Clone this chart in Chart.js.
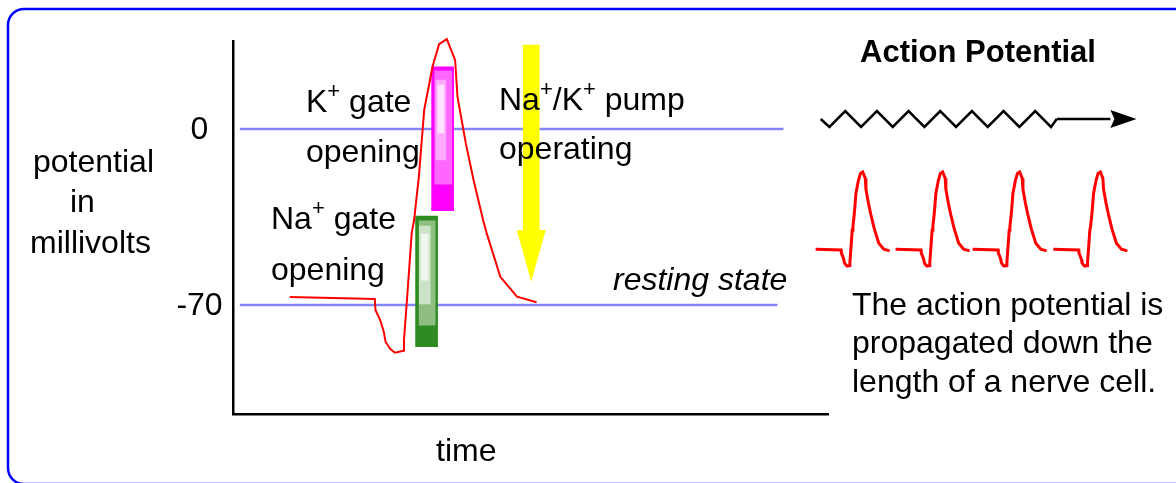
<!DOCTYPE html>
<html>
<head>
<meta charset="utf-8">
<script src="https://cdn.jsdelivr.net/npm/chart.js@4/dist/chart.umd.min.js"></script>
<style>
  body { margin: 0; background: #fff; }
  #wrap { position: relative; width: 1176px; height: 483px; }
  #main { position: absolute; left: 0; top: 0; }
  #side { position: absolute; left: 800px; top: 90px; }
</style>
</head>
<body>
<div id="wrap">
  <canvas id="main" width="1176" height="483"></canvas>
  <canvas id="side" width="376" height="200"></canvas>
</div>
<script>
// time: arbitrary units across the axis (0..100), potential in mV
const traceTime = [9.5, 23.8, 23.9, 24.7, 25.3, 25.6, 26.4, 27.2, 28.6, 28.7, 29.2, 30.0, 30.4, 31.2,
  32.1, 33.5, 34.6, 35.9, 37.3, 37.7, 39.1, 40.4, 41.2, 42.0, 42.6, 44.9, 47.7, 51.0];
const traceMv = [-66.8, -67.6, -72.0, -76.0, -80.6, -84.6, -87.5, -89.0, -88.2, -83.9, -68.0, -41.4, -36.2, -19.0,
  7.6, 24.8, 33.8, 35.8, 27.4, 12.8, -5.7, -20.3, -28.2, -36.2, -41.4, -58.8, -66.7, -68.9];

// reference levels (0 mV and resting -70 mV)
const levelValues = [0, -70];
const levelStart = [1.1, 1.1];
const levelEnd = [92.5, 91.5];
const tickLabels = ['0', '-70'];

// gate bars, outer -> inner
const naGateX = [32.5, 32.6, 32.2, 32.2];
const naGateLow = [-86.6, -78.0, -69.6, -60.1];
const naGateHigh = [-34.6, -36.5, -38.6, -41.8];
const kGateX = [35.2, 35.3, 34.9, 34.9];
const kGateLow = [-32.5, -21.9, -12.3, -1.5];
const kGateHigh = [24.8, 23.2, 19.5, 17.5];

// Na+/K+ pump arrow: x, top, head base, tip
const pumpX = 50.1;
const pumpTop = 33.4;
const pumpHeadBase = -40.2;
const pumpTip = -60.7;

// small traces on the right, shifted copies of the trace above
const miniOffsets = [0, 44.8, 88.0, 133.2];

// zigzag "action potential" symbol
const zigX = [0, 0.55, 1.55, 2.55, 3.55, 4.55, 5.55, 6.55, 7.55, 8.55, 9.55, 10.55, 11.55, 12.55, 13.55, 14.55, 14.91];
const zigY = [0, -1, 1, -1, 1, -1, 1, -1, 1, -1, 1, -1, 1, -1, 1, -1, 0];
const shaftX = [14.91, 18.3];
const shaftTip = 19.95;

const FONT = '"Liberation Sans", Arial, sans-serif';

function pts(xs, ys) { return xs.map((x, i) => ({ x: x, y: ys[i] })); }

function drawRich(ctx, parts, x, y, size) {
  let cx = x;
  parts.forEach(p => {
    const s = p.sup ? 22 : size;
    ctx.font = (p.italic ? 'italic ' : '') + (p.bold ? 'bold ' : '') + s + 'px ' + FONT;
    ctx.fillText(p.t, cx, p.sup ? y - 14 : y);
    cx += ctx.measureText(p.t).width;
  });
}

const mainDecor = {
  id: 'mainDecor',
  beforeDraw(chart) {
    const ctx = chart.ctx;
    ctx.save();
    ctx.strokeStyle = '#0000ff';
    ctx.lineWidth = 2.5;
    ctx.beginPath();
    ctx.roundRect(8, 9, 1190, 475, 16);
    ctx.stroke();
    ctx.restore();
  },
  afterDatasetsDraw(chart) {
    const ctx = chart.ctx;
    const xs = chart.scales.x, ys = chart.scales.y;
    ctx.save();
    // pump arrow head
    const px = xs.getPixelForValue(pumpX);
    ctx.fillStyle = '#ffff00';
    ctx.beginPath();
    ctx.moveTo(px - 14.5, ys.getPixelForValue(pumpHeadBase));
    ctx.lineTo(px + 14.5, ys.getPixelForValue(pumpHeadBase));
    ctx.lineTo(px, ys.getPixelForValue(pumpTip));
    ctx.closePath();
    ctx.fill();

    ctx.fillStyle = '#000';
    ctx.textBaseline = 'middle';
    ctx.textAlign = 'center';
    ctx.font = '32px ' + FONT;
    levelValues.forEach((v, i) => ctx.fillText(tickLabels[i], 199.5, ys.getPixelForValue(v) + 1));

    ctx.textBaseline = 'alphabetic';
    ctx.textAlign = 'left';
    drawRich(ctx, [{ t: 'K' }, { t: '+', sup: true }, { t: ' gate' }], 306, 112, 32);
    drawRich(ctx, [{ t: 'opening' }], 306, 162, 32);
    drawRich(ctx, [{ t: 'Na' }, { t: '+', sup: true }, { t: ' gate' }], 271, 229, 32);
    drawRich(ctx, [{ t: 'opening' }], 271, 280, 32);
    drawRich(ctx, [{ t: 'Na' }, { t: '+', sup: true }, { t: '/K' }, { t: '+', sup: true }, { t: ' pump' }], 499, 110, 32);
    drawRich(ctx, [{ t: 'operating' }], 499, 159, 32);
    drawRich(ctx, [{ t: 'resting state', italic: true }], 613, 290, 32);
    drawRich(ctx, [{ t: 'potential' }], 33, 172, 32);
    drawRich(ctx, [{ t: 'in' }], 70, 212, 32);
    drawRich(ctx, [{ t: 'millivolts' }], 30, 253, 32);
    drawRich(ctx, [{ t: 'time' }], 436, 461, 32);
    drawRich(ctx, [{ t: 'Action Potential', bold: true }], 860, 62, 31);
    drawRich(ctx, [{ t: 'The action potential is' }], 852, 315, 32);
    drawRich(ctx, [{ t: 'propagated down the' }], 852, 353, 32);
    drawRich(ctx, [{ t: 'length of a nerve cell.' }], 852, 392, 32);
    ctx.restore();
  }
};

function gateBars(xs, lows, highs, colors, widths) {
  return xs.map((x, i) => ({
    type: 'bar',
    data: [{ x: x, y: [lows[i], highs[i]] }],
    backgroundColor: colors[i],
    barThickness: widths[i],
    grouped: false,
    borderWidth: 0,
    order: 10 - i
  }));
}

const lineStyle = { type: 'line', pointRadius: 0, tension: 0, fill: false };

new Chart(document.getElementById('main'), {
  type: 'line',
  data: {
    datasets: [
      Object.assign({}, lineStyle, {
        data: pts(traceTime, traceMv), borderColor: '#ff0000', borderWidth: 2, clip: false, order: 0
      }),
      ...levelValues.map((v, i) => Object.assign({}, lineStyle, {
        data: [{ x: levelStart[i], y: v }, { x: levelEnd[i], y: v }],
        borderColor: '#8484ff', borderWidth: 2.5, order: 20
      })),
      ...gateBars(naGateX, naGateLow, naGateHigh, ['#2e8b22', '#8fbf80', '#cde3c7', '#eff6ed'], [22, 16, 11, 7]),
      ...gateBars(kGateX, kGateLow, kGateHigh, ['#ff00ff', '#ff66ff', '#ffaaff', '#ffe2ff'], [22, 17, 10, 6]),
      {
        type: 'bar', data: [{ x: pumpX, y: [pumpHeadBase, pumpTop] }],
        backgroundColor: '#ffff00', barThickness: 16, grouped: false, borderWidth: 0, order: 5, clip: false
      }
    ]
  },
  options: {
    responsive: false,
    animation: false,
    events: [],
    layout: { padding: { left: 233.3, right: 348, top: 41.6, bottom: 69.2 } },
    plugins: { legend: { display: false }, tooltip: { enabled: false } },
    scales: {
      x: {
        type: 'linear', min: 0, max: 100, offset: false,
        grid: { display: false, drawTicks: false },
        ticks: { display: false },
        border: { display: true, color: '#000', width: 2.5 }
      },
      y: {
        type: 'linear', min: -113.3, max: 34.8,
        grid: { display: false, drawTicks: false },
        ticks: { display: false },
        border: { display: true, color: '#000', width: 2.5 }
      }
    }
  },
  plugins: [mainDecor]
});

const sideDecor = {
  id: 'sideDecor',
  afterDatasetsDraw(chart) {
    const ctx = chart.ctx;
    const xs = chart.scales.zx, ys = chart.scales.zy;
    const bx = xs.getPixelForValue(shaftX[1]);
    const tx = xs.getPixelForValue(shaftTip);
    const y0 = ys.getPixelForValue(0);
    ctx.save();
    ctx.fillStyle = '#000';
    ctx.beginPath();
    ctx.moveTo(bx, y0 - 9);
    ctx.lineTo(tx, y0);
    ctx.lineTo(bx, y0 + 9);
    ctx.lineTo(bx + 4, y0);
    ctx.closePath();
    ctx.fill();
    ctx.restore();
  }
};

new Chart(document.getElementById('side'), {
  type: 'line',
  data: {
    datasets: [
      ...miniOffsets.map(off => Object.assign({}, lineStyle, {
        data: pts(traceTime.map(t => t + off), traceMv),
        borderColor: '#ff0000', borderWidth: 3, xAxisID: 'x', yAxisID: 'y'
      })),
      Object.assign({}, lineStyle, {
        data: pts(zigX, zigY), borderColor: '#000', borderWidth: 2.5, xAxisID: 'zx', yAxisID: 'zy'
      }),
      Object.assign({}, lineStyle, {
        data: pts(shaftX, [0, 0]), borderColor: '#000', borderWidth: 2.5, xAxisID: 'zx', yAxisID: 'zy'
      })
    ]
  },
  options: {
    responsive: false,
    animation: false,
    events: [],
    layout: { padding: 0 },
    plugins: { legend: { display: false }, tooltip: { enabled: false } },
    scales: {
      x: { type: 'linear', display: false, min: 0.73, max: 211.49 },
      y: { type: 'linear', display: false, min: -120.78, max: 144.47 },
      zx: { type: 'linear', display: false, axis: 'x', min: -1.308, max: 22.445 },
      zy: { type: 'linear', display: false, axis: 'y', min: -21.375, max: 3.625 }
    }
  },
  plugins: [sideDecor]
});
</script>
</body>
</html>
